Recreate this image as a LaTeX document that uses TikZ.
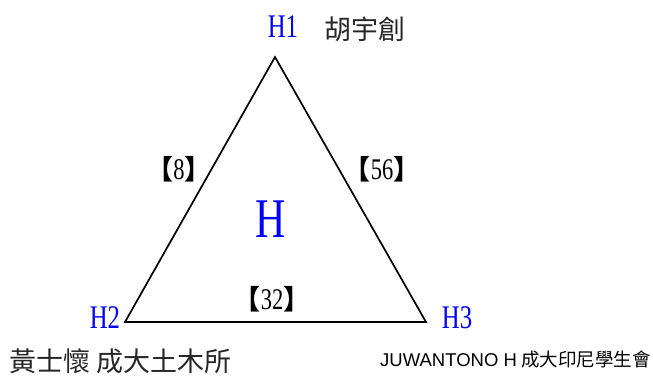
\documentclass[tikz,border=0pt]{standalone}
\usepackage{fontspec}
\setmainfont{Liberation Serif}
\newfontfamily\narrowserif[FakeStretch=0.75]{Liberation Serif}
\newfontfamily\cjk{Noto Sans CJK TC}
\newfontfamily\arialish{Liberation Sans}
\usetikzlibrary{positioning}

\newcommand{\lbr}{{\cjk\fontsize{27}{27}\selectfont\bfseries 【}}
\newcommand{\rbr}{{\cjk\fontsize{27}{27}\selectfont\bfseries 】}}

\begin{document}
\begin{tikzpicture}[
    x=1pt, y=-1pt,
    edge/.style={line width=1.7pt, black, line join=miter},
    vlbl/.style={text=blue, font=\narrowserif\fontsize{33}{33}\selectfont, inner sep=0pt},
    wlbl/.style={font=\narrowserif\fontsize{30}{30}\selectfont, inner sep=0pt},
    namelbl/.style={font=\cjk\fontsize{27}{27}\selectfont, text=black!85, inner sep=0pt, anchor=west},
]
\useasboundingbox (0,0) rectangle (653,376);
% corners of the triangle
\coordinate (H1) at (275,57);
\coordinate (H2) at (125,322);
\coordinate (H3) at (426,322);
\draw[edge] (H1) -- (H2) -- (H3) -- cycle;
% vertex labels
\node[vlbl] (lH1) at (283,27) {H1};
\node[vlbl] (lH2) at (105,318) {H2};
\node[vlbl] (lH3) at (457,318) {H3};
\node[vlbl, font=\narrowserif\fontsize{56}{56}\selectfont] (lH) at (271,219) {H};
% weights
\node[wlbl] (w12) at (179,169) {\lbr 8\rbr};
\node[wlbl] (w13) at (382,169) {\lbr 56\rbr};
\node[wlbl] (w23) at (272,299) {\lbr 32\rbr};
% names
\node[namelbl] (n1) at (324,29) {胡宇創};
\node[namelbl] (n2) at (9,361) {黃士懷 成大土木所};
\node[namelbl, font=\cjk\fontsize{18.5}{18.5}\selectfont, text=black] (n3) at (380,359) {{\arialish JUWANTONO H} 成大印尼學生會};
\end{tikzpicture}
\end{document}
